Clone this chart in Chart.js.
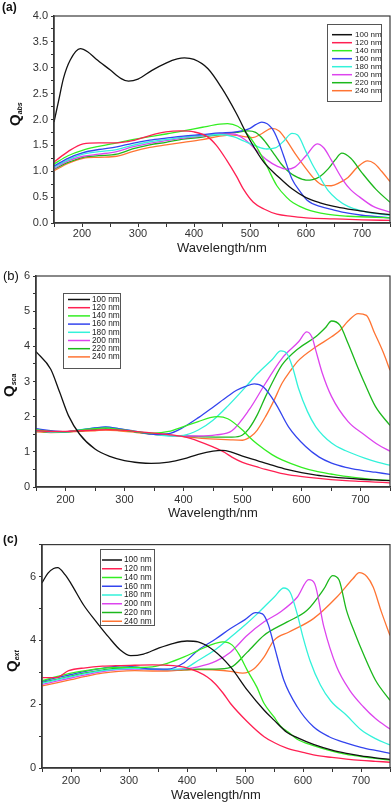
<!DOCTYPE html>
<html>
<head>
<meta charset="utf-8">
<title>Qabs / Qsca / Qext vs wavelength</title>
<script src="https://cdn.jsdelivr.net/npm/chart.js@4.4.0/dist/chart.umd.min.js"></script>
<style>
  html, body { margin: 0; padding: 0; background: #fff; }
  body { width: 392px; height: 806px; position: relative; overflow: hidden; }
  canvas { position: absolute; left: 0; }
</style>
</head>
<body>
<canvas id="chartA" width="392" height="265" style="top:0px"></canvas>
<canvas id="chartB" width="392" height="270" style="top:265px"></canvas>
<canvas id="chartC" width="392" height="271" style="top:535px"></canvas>

<script>
// particle sizes (legend)
var sizes = ['100 nm', '120 nm', '140 nm', '160 nm', '180 nm', '200 nm', '220 nm', '240 nm'];
var colors = ['#111111', '#ff2052', '#33ee22', '#3344ee', '#33f2da', '#dd44ee', '#1cb81c', '#ff7433'];

// x axis: wavelength in nm
var wlMin = 150, wlMax = 750;
var wlLabels = [200, 300, 400, 500, 600, 700];

// (a) absorption efficiency, [wavelength, Q]
var abs100 = [[150,1.95],[158,2.35],[167,2.8],[179,3.15],[197,3.37],[210,3.31],[225,3.17],[250,2.96],[270,2.79],[283,2.74],[300,2.78],[325,2.95],[350,3.09],[370,3.17],[383,3.19],[400,3.16],[425,2.98],[450,2.6],[475,2.13],[500,1.6],[525,1.17],[550,0.9],[575,0.66],[600,0.49],[625,0.39],[650,0.32],[675,0.27],[700,0.23],[725,0.19],[750,0.16]];
var abs120 = [[150,1.18],[175,1.38],[202,1.53],[230,1.55],[262,1.55],[290,1.59],[321,1.69],[350,1.76],[375,1.78],[400,1.76],[425,1.66],[440,1.5],[458,1.22],[476,0.9],[488,0.66],[506,0.4],[525,0.27],[548,0.17],[575,0.13],[600,0.1],[650,0.08],[700,0.06],[750,0.05]];
var abs140 = [[150,1.14],[175,1.3],[202,1.41],[230,1.48],[262,1.55],[290,1.61],[321,1.67],[350,1.72],[381,1.78],[415,1.85],[446,1.91],[460,1.92],[478,1.87],[495,1.72],[510,1.5],[518,1.35],[530,1.1],[548,0.72],[565,0.5],[577,0.39],[600,0.27],[637,0.17],[675,0.13],[750,0.1]];
var abs160 = [[150,1.1],[175,1.25],[202,1.36],[230,1.42],[262,1.47],[290,1.54],[321,1.6],[350,1.64],[381,1.68],[415,1.71],[446,1.74],[475,1.76],[500,1.83],[510,1.9],[521,1.95],[540,1.82],[550,1.6],[560,1.3],[575,0.85],[590,0.6],[602,0.44],[625,0.32],[650,0.25],[675,0.19],[700,0.15],[750,0.1]];
var abs180 = [[150,1.08],[175,1.22],[202,1.33],[230,1.38],[262,1.42],[290,1.5],[321,1.57],[350,1.61],[381,1.66],[415,1.69],[446,1.71],[470,1.67],[490,1.58],[510,1.49],[530,1.43],[545,1.45],[560,1.58],[575,1.73],[585,1.7],[600,1.38],[612,1.12],[625,0.88],[640,0.62],[655,0.46],[675,0.32],[700,0.23],[725,0.18],[750,0.15]];
var abs200 = [[150,1.05],[175,1.2],[202,1.29],[230,1.33],[262,1.38],[290,1.47],[321,1.54],[350,1.59],[381,1.64],[415,1.68],[446,1.72],[470,1.72],[490,1.62],[510,1.42],[530,1.22],[550,1.09],[565,1.04],[580,1.08],[600,1.3],[620,1.53],[632,1.45],[645,1.22],[666,0.83],[680,0.64],[696,0.5],[720,0.32],[750,0.21]];
var abs220 = [[150,1.04],[175,1.17],[202,1.27],[230,1.3],[262,1.33],[290,1.43],[321,1.51],[350,1.56],[381,1.62],[415,1.66],[446,1.71],[475,1.75],[496,1.78],[510,1.75],[525,1.6],[540,1.38],[555,1.15],[570,0.98],[585,0.88],[600,0.83],[612,0.84],[625,0.9],[640,1.05],[652,1.22],[664,1.35],[680,1.25],[700,0.97],[725,0.65],[750,0.4]];
var abs240 = [[150,1.01],[175,1.15],[202,1.25],[230,1.27],[262,1.29],[290,1.38],[321,1.46],[350,1.51],[381,1.56],[415,1.61],[446,1.68],[470,1.7],[490,1.67],[505,1.65],[520,1.72],[539,1.83],[552,1.78],[565,1.6],[580,1.35],[600,1.05],[615,0.85],[630,0.73],[645,0.72],[660,0.78],[675,0.88],[692,1.08],[710,1.2],[722,1.15],[735,1.0],[750,0.8]];

// (b) scattering efficiency
var sca100 = [[150,3.85],[175,3.35],[190,2.7],[205,2.03],[224,1.5],[250,1.08],[275,0.87],[300,0.75],[325,0.69],[345,0.67],[375,0.71],[400,0.8],[425,0.93],[450,1.02],[465,1.04],[480,1.0],[500,0.88],[525,0.75],[550,0.62],[575,0.5],[600,0.41],[625,0.34],[650,0.29],[675,0.25],[700,0.22],[725,0.2],[750,0.18]];
var sca120 = [[150,1.6],[175,1.58],[200,1.58],[225,1.6],[250,1.62],[275,1.63],[300,1.61],[325,1.57],[350,1.53],[375,1.49],[400,1.43],[426,1.3],[450,1.14],[470,0.98],[482,0.85],[500,0.7],[525,0.57],[539,0.5],[565,0.39],[595,0.31],[625,0.25],[650,0.21],[675,0.18],[700,0.16],[725,0.14],[750,0.12]];
var sca140 = [[150,1.63],[175,1.58],[200,1.57],[225,1.62],[250,1.66],[268,1.68],[290,1.64],[320,1.57],[350,1.53],[375,1.58],[400,1.72],[425,1.86],[445,1.97],[458,2.0],[475,1.94],[500,1.62],[511,1.43],[525,1.22],[550,0.92],[567,0.77],[600,0.56],[624,0.45],[650,0.37],[675,0.3],[700,0.25],[725,0.21],[750,0.19]];
var sca160 = [[150,1.66],[175,1.6],[200,1.57],[225,1.62],[250,1.68],[268,1.71],[290,1.66],[320,1.57],[350,1.5],[375,1.52],[400,1.7],[426,1.98],[450,2.27],[475,2.58],[490,2.75],[505,2.86],[520,2.93],[535,2.85],[556,2.38],[578,1.71],[607,1.15],[630,0.85],[651,0.68],[675,0.56],[700,0.48],[725,0.42],[750,0.36]];
var sca180 = [[150,1.6],[175,1.57],[200,1.57],[225,1.63],[250,1.68],[268,1.7],[290,1.66],[320,1.58],[350,1.5],[375,1.45],[400,1.47],[425,1.62],[450,1.9],[475,2.3],[505,2.84],[525,3.22],[550,3.62],[565,3.87],[575,3.8],[585,3.4],[595,2.8],[610,2.15],[624,1.72],[651,1.25],[675,1.03],[707,0.82],[730,0.7],[750,0.62]];
var sca200 = [[150,1.62],[175,1.57],[200,1.57],[225,1.62],[250,1.67],[268,1.69],[290,1.66],[320,1.58],[350,1.5],[375,1.47],[400,1.45],[426,1.45],[455,1.48],[482,1.6],[511,2.19],[539,2.95],[567,3.66],[595,4.13],[609,4.41],[618,4.25],[624,3.9],[635,3.25],[651,2.57],[679,1.86],[707,1.48],[730,1.2],[750,1.02]];
var sca220 = [[150,1.6],[175,1.56],[200,1.57],[225,1.6],[250,1.64],[268,1.66],[290,1.63],[320,1.57],[350,1.5],[375,1.47],[400,1.45],[426,1.43],[455,1.42],[482,1.42],[500,1.48],[511,1.66],[525,2.05],[539,2.57],[553,3.05],[567,3.47],[595,3.94],[624,4.27],[640,4.52],[651,4.72],[665,4.6],[679,4.08],[693,3.5],[707,2.95],[725,2.3],[750,1.75]];
var sca240 = [[150,1.57],[175,1.55],[200,1.56],[225,1.58],[250,1.6],[268,1.62],[290,1.6],[320,1.55],[350,1.5],[375,1.47],[400,1.43],[426,1.39],[455,1.36],[480,1.34],[500,1.33],[515,1.45],[525,1.62],[539,2.0],[553,2.45],[567,2.95],[581,3.3],[595,3.6],[624,3.98],[651,4.27],[665,4.45],[679,4.72],[696,4.93],[710,4.88],[724,4.37],[738,3.85],[750,3.32]];

// (c) extinction efficiency
var ext100 = [[150,5.8],[160,6.1],[170,6.25],[177,6.28],[190,6.05],[200,5.78],[222,5.1],[245,4.55],[265,4.1],[285,3.7],[303,3.52],[325,3.57],[350,3.75],[375,3.9],[400,3.98],[419,3.95],[445,3.7],[475,3.17],[504,2.44],[533,1.81],[550,1.5],[572,1.12],[590,0.95],[618,0.74],[650,0.56],[675,0.46],[700,0.38],[725,0.32],[750,0.27]];
var ext120 = [[150,2.83],[174,2.83],[196,3.05],[225,3.14],[254,3.19],[282,3.21],[310,3.22],[340,3.23],[366,3.22],[395,3.16],[419,3.01],[435,2.85],[448,2.65],[462,2.35],[475,2.02],[504,1.45],[533,0.98],[550,0.8],[572,0.62],[600,0.49],[618,0.41],[650,0.33],[675,0.28],[700,0.24],[725,0.21],[750,0.18]];
var ext140 = [[150,2.74],[175,2.86],[200,2.97],[225,3.05],[254,3.12],[282,3.15],[310,3.15],[340,3.17],[366,3.28],[395,3.48],[419,3.68],[440,3.85],[462,3.95],[478,3.85],[490,3.55],[504,3.06],[520,2.55],[533,2.02],[550,1.6],[561,1.32],[575,1.12],[590,0.9],[618,0.7],[650,0.53],[675,0.43],[700,0.36],[725,0.3],[750,0.25]];
var ext160 = [[150,2.72],[175,2.83],[200,2.93],[225,3.03],[254,3.12],[285,3.2],[310,3.17],[340,3.1],[366,3.1],[395,3.3],[419,3.69],[450,4.05],[475,4.37],[500,4.65],[518,4.87],[530,4.83],[540,4.5],[550,3.85],[567,2.75],[590,1.92],[618,1.29],[645,0.98],[675,0.78],[700,0.65],[725,0.55],[750,0.46]];
var ext180 = [[150,2.66],[175,2.76],[200,2.86],[225,2.96],[254,3.05],[282,3.1],[310,3.12],[340,3.1],[366,3.09],[395,3.12],[419,3.37],[450,3.72],[475,4.1],[500,4.48],[521,4.83],[550,5.35],[567,5.64],[578,5.5],[590,4.83],[600,4.1],[612,3.37],[630,2.6],[648,2.1],[675,1.65],[700,1.2],[725,0.92],[750,0.72]];
var ext200 = [[150,2.62],[175,2.72],[200,2.82],[225,2.92],[254,3.02],[282,3.08],[310,3.1],[340,3.09],[366,3.08],[395,3.1],[419,3.17],[450,3.35],[475,3.63],[504,4.16],[533,4.58],[561,4.89],[590,5.35],[610,5.9],[620,5.78],[636,4.42],[658,3.17],[680,2.45],[704,1.92],[725,1.55],[750,1.22]];
var ext220 = [[150,2.68],[175,2.78],[200,2.88],[225,2.98],[254,3.07],[282,3.12],[310,3.12],[340,3.1],[366,3.08],[395,3.08],[419,3.1],[450,3.1],[475,3.15],[504,3.63],[533,4.16],[572,4.57],[607,4.94],[636,5.61],[651,6.03],[662,5.9],[675,4.94],[690,4.2],[704,3.58],[725,2.75],[750,2.12]];
var ext240 = [[150,2.57],[175,2.67],[200,2.77],[225,2.87],[254,2.97],[282,3.03],[310,3.05],[340,3.04],[366,3.04],[395,3.07],[419,3.08],[450,3.07],[475,3.03],[496,2.97],[515,3.1],[533,3.48],[550,4.0],[576,4.26],[618,4.68],[658,5.35],[686,5.93],[697,6.12],[710,6.0],[721,5.67],[735,4.9],[750,4.15]];

var FONT = '"Liberation Sans", Arial, Helvetica, sans-serif';
Chart.defaults.font.family = FONT;
Chart.defaults.color = '#333';

// frame, panel tag, Q title with subscript, boxed legend
var decor = {
    id: 'decor',
    afterDraw: function(chart, args, o) {
        var ctx = chart.ctx, a = chart.chartArea;
        ctx.save();
        ctx.strokeStyle = '#3a3a3a';
        ctx.lineWidth = 1.2;
        ctx.strokeRect(a.left, a.top, a.right - a.left, a.bottom - a.top);

        ctx.fillStyle = '#111';
        ctx.textAlign = 'left';
        ctx.textBaseline = 'middle';
        ctx.font = o.tagFont + ' ' + FONT;
        ctx.fillText(o.tag, o.tagX, o.tagY);

        ctx.translate(o.qx, o.qy);
        ctx.rotate(-Math.PI / 2);
        ctx.font = 'bold 15px ' + FONT;
        ctx.fillText('Q', 0, 0);
        var w = ctx.measureText('Q').width;
        ctx.font = 'italic bold 7px ' + FONT;
        ctx.fillText(o.sub, w, 4);
        ctx.restore();

        var L = o.legend;
        ctx.save();
        ctx.fillStyle = '#fff';
        ctx.fillRect(L.x, L.y, L.w, L.h);
        ctx.strokeStyle = '#555';
        ctx.lineWidth = 1;
        ctx.strokeRect(L.x + 0.5, L.y + 0.5, L.w, L.h);
        ctx.font = L.font + ' ' + FONT;
        ctx.textBaseline = 'middle';
        chart.data.datasets.forEach(function(ds, i) {
            var y = L.row0 + i * L.dy;
            ctx.strokeStyle = ds.borderColor;
            ctx.lineWidth = 1.5;
            ctx.beginPath();
            ctx.moveTo(L.x0, y);
            ctx.lineTo(L.x1, y);
            ctx.stroke();
            ctx.fillStyle = '#222';
            ctx.fillText(ds.label, L.tx, y);
        });
        ctx.restore();
    }
};

function makeSets(list) {
    return list.map(function(d, i) {
        return {
            label: sizes[i],
            data: d,
            borderColor: colors[i],
            borderWidth: 1.3,
            pointRadius: 0,
            fill: false,
            cubicInterpolationMode: 'monotone'
        };
    });
}

function stepTicks(max, step) {
    var t = [];
    for (var v = 0; v <= max + 1e-9; v += step) t.push({ value: Math.round(v * 1000) / 1000 });
    return t;
}

function makeChart(id, sets, p) {
    return new Chart(document.getElementById(id), {
        type: 'line',
        data: { datasets: makeSets(sets) },
        options: {
            responsive: false,
            animation: false,
            layout: { padding: { top: p.top, right: p.right, left: 0, bottom: 0 } },
            plugins: { legend: { display: false }, tooltip: { enabled: false }, decor: p.decor },
            scales: {
                x: {
                    type: 'linear', min: wlMin, max: wlMax,
                    afterBuildTicks: function(s) {
                        var t = [];
                        for (var v = wlMin; v <= wlMax; v += 50) t.push({ value: v });
                        s.ticks = t;
                    },
                    afterFit: function(s) { s.height = p.xh; },
                    ticks: {
                        padding: p.xpad, maxRotation: 0, autoSkip: false,
                        font: { size: 11 }, color: '#333',
                        callback: function(v) { return wlLabels.indexOf(v) >= 0 ? String(v) : ''; }
                    },
                    grid: { drawOnChartArea: false, tickLength: 4, color: '#333' },
                    border: { color: '#333', width: 1.5 },
                    title: { display: true, text: 'Wavelength/nm', color: '#222',
                             font: { size: 13 }, padding: { top: 0, bottom: p.tpad } }
                },
                y: {
                    min: 0, max: p.ymax,
                    afterBuildTicks: function(s) { s.ticks = stepTicks(p.ymax, p.minor); },
                    afterFit: function(s) { s.width = p.yw; },
                    ticks: {
                        padding: 3, autoSkip: false, font: { size: 11 }, color: '#333',
                        callback: p.ylabel
                    },
                    grid: { drawOnChartArea: false, tickLength: 3, color: '#333' },
                    border: { color: '#333', width: 1.5 }
                }
            }
        },
        plugins: [decor]
    });
}

makeChart('chartA', [abs100, abs120, abs140, abs160, abs180, abs200, abs220, abs240], {
    top: 16, right: 2, yw: 54, xh: 42, xpad: 0, tpad: 9, ymax: 4, minor: 0.25,
    ylabel: function(v) { return Math.abs(v * 2 - Math.round(v * 2)) < 1e-6 ? v.toFixed(1) : ''; },
    decor: {
        tag: '(a)', tagFont: 'bold 12px', tagX: 2, tagY: 8, qx: 16, qy: 126, sub: 'abs',
        legend: { x: 327, y: 24, w: 54, h: 77, row0: 34.7, dy: 8, x0: 332, x1: 352, tx: 355, font: '8px' }
    }
});

makeChart('chartB', [sca100, sca120, sca140, sca160, sca180, sca200, sca220, sca240], {
    top: 11, right: 1, yw: 36, xh: 48, xpad: 2, tpad: 14, ymax: 6, minor: 0.5,
    ylabel: function(v) { return Number.isInteger(v) ? String(v) : ''; },
    decor: {
        tag: '(b)', tagFont: '13px', tagX: 3, tagY: 11, qx: 10, qy: 132, sub: 'sca',
        legend: { x: 63, y: 28, w: 57, h: 75, row0: 34.5, dy: 8.2, x0: 68, x1: 90, tx: 92, font: '8.3px' }
    }
});

makeChart('chartC', [ext100, ext120, ext140, ext160, ext180, ext200, ext220, ext240], {
    top: 8, right: 1, yw: 42, xh: 38, xpad: 2, tpad: 3, ymax: 7, minor: 1,
    ylabel: function(v) { return v % 2 === 0 ? String(v) : ''; },
    decor: {
        tag: '(c)', tagFont: 'bold 12px', tagX: 3, tagY: 5, qx: 13, qy: 137, sub: 'ext',
        legend: { x: 100, y: 14, w: 54, h: 76, row0: 25, dy: 8.75, x0: 102, x1: 122, tx: 124, font: '8.3px' }
    }
});
</script>
</body>
</html>
